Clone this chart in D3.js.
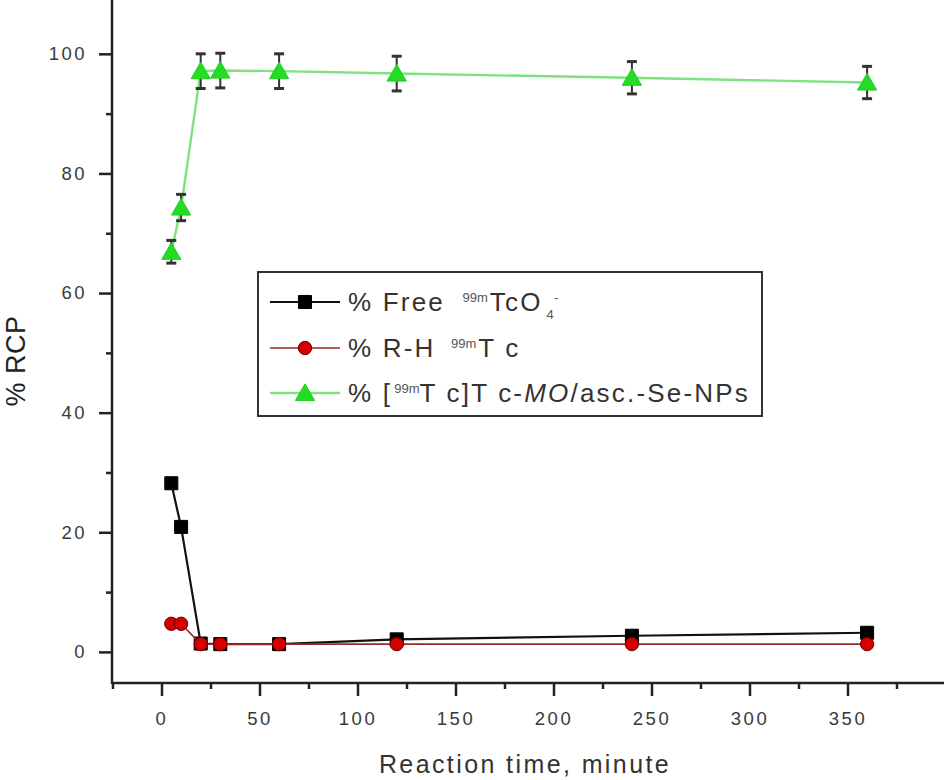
<!DOCTYPE html>
<html>
<head>
<meta charset="utf-8">
<script src="https://cdn.jsdelivr.net/npm/d3@7"></script>
<style>
  body { margin: 0; background: #fff; }
  svg { display: block; font-family: "Liberation Sans", Arial, sans-serif; }
</style>
</head>
<body>
<svg id="chart" width="944" height="780"></svg>
<script>
// data
var times = [5, 10, 20, 30, 60, 120, 240, 360];
var freeTc = [28.2, 20.9, 1.4, 1.3, 1.3, 2.1, 2.7, 3.2];
var rhTc = [4.7, 4.7, 1.3, 1.3, 1.3, 1.3, 1.3, 1.3];
var labeledTc = [66.9, 74.3, 97.1, 97.2, 97.1, 96.7, 96.0, 95.2];
var labeledErr = [1.9, 2.2, 2.9, 2.9, 2.9, 2.9, 2.7, 2.7];
var xMajor = [0, 50, 100, 150, 200, 250, 300, 350];
var xMinor = [-25, 25, 75, 125, 175, 225, 275, 325, 375];
var yMajor = [0, 20, 40, 60, 80, 100];
var yMinor = [10, 30, 50, 70, 90];

var svg = d3.select("#chart");

var x = d3.scaleLinear().domain([-25, 400]).range([112.5, 945.5]);
var y = d3.scaleLinear().domain([-5.2, 109]).range([683, 0]);

var axisColor = "#222";
var labelColor = "#3a3a3a";

// y axis
var gy = svg.append("g").attr("transform", "translate(112,0)");
gy.call(d3.axisLeft(y).tickValues(yMajor).tickSize(13).tickSizeOuter(0).tickPadding(12));
gy.append("g").call(d3.axisLeft(y).tickValues(yMinor).tickSize(6).tickFormat(""));
gy.selectAll("path.domain").remove();
gy.append("line").attr("x1", 0).attr("x2", 0).attr("y1", 0).attr("y2", 684)
  .attr("stroke", axisColor).attr("stroke-width", 2.5);

// x axis
var gx = svg.append("g").attr("transform", "translate(0,683)");
gx.call(d3.axisBottom(x).tickValues(xMajor).tickSize(13).tickSizeOuter(0).tickPadding(16));
gx.append("g").call(d3.axisBottom(x).tickValues(xMinor).tickSize(6).tickFormat(""));
gx.selectAll("path.domain").remove();
gx.append("line").attr("x1", 111).attr("x2", 944).attr("y1", 0).attr("y2", 0)
  .attr("stroke", axisColor).attr("stroke-width", 2.5);

svg.selectAll(".tick line").attr("stroke", axisColor).attr("stroke-width", 2.5);
svg.selectAll(".tick text")
  .attr("fill", labelColor)
  .style("font-size", "18.5px")
  .style("letter-spacing", "2.5px")
  .style("font-family", "'Liberation Sans', Arial, sans-serif");

// axis titles
svg.append("text")
  .attr("transform", "translate(25,361) rotate(-90)")
  .attr("text-anchor", "middle")
  .attr("fill", "#222")
  .style("font-size", "27px")
  .style("letter-spacing", "0.5px")
  .text("% RCP");

svg.append("text")
  .attr("x", 525).attr("y", 773)
  .attr("text-anchor", "middle")
  .attr("fill", "#333")
  .style("font-size", "25px")
  .style("letter-spacing", "2.4px")
  .text("Reaction time, minute");

// series
var series = [
  { name: "free", vals: freeTc, line: "#111", lw: 2.2, fill: "#000", edge: "#000", shape: d3.symbolSquare, size: 170 },
  { name: "rh", vals: rhTc, line: "#9a2a2a", lw: 1.6, fill: "#d40000", edge: "#6a0000", shape: d3.symbolCircle, size: 140 },
  { name: "lab", vals: labeledTc, line: "#7fe27f", lw: 2.4, fill: "#22dd22", edge: "#22cc22", shape: d3.symbolTriangle, size: 160 }
];

var line = d3.line().x(function(d) { return x(d[0]); }).y(function(d) { return y(d[1]); });

series.forEach(function(s) {
  var pts = times.map(function(t, i) { return [t, s.vals[i]]; });
  svg.append("path")
    .attr("d", line(pts))
    .attr("fill", "none")
    .attr("stroke", s.line)
    .attr("stroke-width", s.lw);

  if (s.name === "lab") {
    var eb = svg.append("g");
    pts.forEach(function(p, i) {
      var e = labeledErr[i];
      var cx = x(p[0]);
      eb.append("line")
        .attr("x1", cx).attr("x2", cx)
        .attr("y1", y(p[1] + e)).attr("y2", y(p[1] - e))
        .attr("stroke", "#333").attr("stroke-width", 2);
      [p[1] + e, p[1] - e].forEach(function(v) {
        eb.append("line")
          .attr("x1", cx - 5).attr("x2", cx + 5)
          .attr("y1", y(v)).attr("y2", y(v))
          .attr("stroke", "#333").attr("stroke-width", 3);
      });
    });
  }

  svg.append("g").selectAll("path")
    .data(pts)
    .enter()
    .append("path")
      .attr("transform", function(d) { return "translate(" + x(d[0]) + "," + (y(d[1]) + (s.name === "lab" ? 2 : 0)) + ")"; })
      .attr("d", d3.symbol().type(s.shape).size(s.size))
      .attr("fill", s.fill)
      .attr("stroke", s.edge)
      .attr("stroke-width", 1);
});

// legend
var lg = svg.append("g");
lg.append("rect")
  .attr("x", 258).attr("y", 272).attr("width", 504).attr("height", 144)
  .attr("fill", "#fff").attr("stroke", "#333").attr("stroke-width", 2);

var rows = [302, 348, 393];
series.forEach(function(s, i) {
  var ry = rows[i];
  lg.append("line")
    .attr("x1", 270).attr("x2", 340).attr("y1", ry).attr("y2", ry)
    .attr("stroke", s.line).attr("stroke-width", s.lw);
  lg.append("path")
    .attr("transform", "translate(305," + (ry + (s.name === "lab" ? 2 : 0)) + ")")
    .attr("d", d3.symbol().type(s.shape).size(s.size))
    .attr("fill", s.fill).attr("stroke", s.edge);
});

function legendText(ry, parts) {
  var t = lg.append("text")
    .attr("x", 348).attr("y", ry + 9)
    .attr("fill", "#333")
    .style("font-size", "26px")
    .style("letter-spacing", "2.2px");
  parts.forEach(function(p) {
    var ts = t.append("tspan").text(p.t);
    if (p.sup) ts.attr("baseline-shift", "70%").style("font-size", "13px").style("letter-spacing", "0px").attr("fill", "#555");
    if (p.sub) ts.attr("baseline-shift", "-60%").style("font-size", "13px").attr("fill", "#555");
    if (p.it) ts.style("font-style", "italic");
    if (p.dx) ts.attr("dx", p.dx);
  });
}

legendText(rows[0], [
  { t: "% Free " }, { t: "99m", sup: true, dx: 8 }, { t: "TcO", dx: 2 }, { t: "4", sub: true, dx: 4 }, { t: "-", sup: true, dx: -2 }
]);
legendText(rows[1], [
  { t: "% R-H " }, { t: "99m", sup: true, dx: 6 }, { t: "T c", dx: 2 }
]);
legendText(rows[2], [
  { t: "% [" }, { t: "99m", sup: true, dx: 2 }, { t: "T c]T c-", dx: 0 }, { t: "MO", it: true }, { t: "/asc.-Se-NPs" }
]);
</script>
</body>
</html>
